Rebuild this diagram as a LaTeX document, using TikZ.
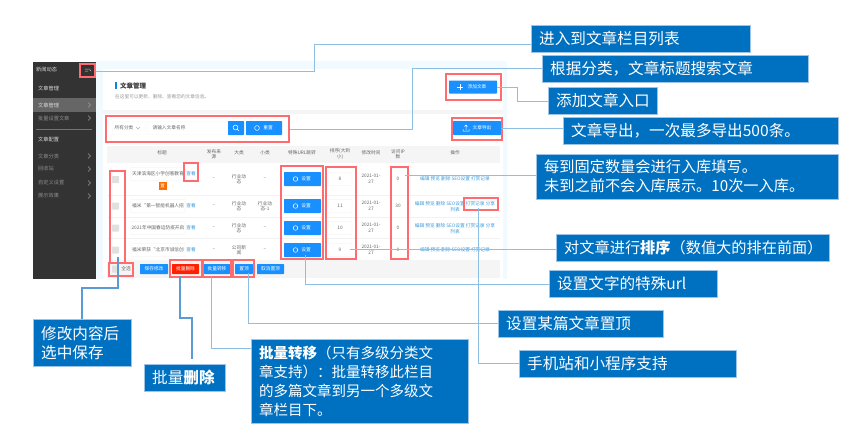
\documentclass[tikz,border=0pt]{standalone}
\usepackage{fontspec}
\setmainfont{Noto Sans CJK SC}
\usetikzlibrary{positioning}
\definecolor{callblue}{HTML}{0070C0}
\definecolor{calledge}{HTML}{9DC3E6}
\definecolor{markred}{HTML}{FF6B6F}
\definecolor{linkblue}{HTML}{3C9BDC}
\definecolor{btnblue}{HTML}{1890FF}
\definecolor{linedark}{HTML}{5B9BD5}
\tikzset{
    callout/.style={draw=calledge, fill=callblue, text=white, anchor=north west, align=left, inner xsep=8pt, inner ysep=0pt, font=\fontsize{15.6}{19}\selectfont},
    markbox/.style={draw=markred, line width=1.2pt, inner sep=0pt},
    lead/.style={draw=callblue!45!white, line width=0.9pt},
    leadthick/.style={draw=linedark, line width=1.5pt},
    uitext/.style={inner sep=0pt, text=black!60, font=\fontsize{4.7}{5.5}\selectfont, align=center},
    sidetext/.style={inner sep=0pt, text=white!85!black, anchor=west, font=\fontsize{5.2}{6}\selectfont},
    sidedim/.style={sidetext, text=white!55!black},
    linktext/.style={inner sep=0pt, text=linkblue, font=\fontsize{4.7}{5.5}\selectfont, align=center},
    uibtn/.style={fill=btnblue, rounded corners=0.6pt, inner sep=0pt, text=white, font=\fontsize{4.7}{5.5}\selectfont},
    cellbox/.style={draw=black!7, fill=white, rounded corners=0.6pt, inner sep=0pt, text=black!60, font=\fontsize{4.7}{5.5}\selectfont},
    checkbox/.style={fill=black!12, rounded corners=0.6pt, inner sep=0pt, minimum size=7pt},
}
\begin{document}
\begin{tikzpicture}[x=1pt, y=-1pt]
    \useasboundingbox (0,0) rectangle (860,432);

    % page behind the table
    \fill [blue!30!cyan!6] (96,61) rectangle (507,279);
    \fill [white] (103,69) rectangle (503,279);
    \fill [black!4] (103,110) rectangle (503,114);
    \fill [black!4] (107,146) rectangle (500,163);
    \fill [black!4] (107,260) rectangle (500,278);
    \draw [black!5] (107,195) -- (500,195) (107,217) -- (500,217) (107,238) -- (500,238);

    % side menu
    \fill [black!80] (33,62) rectangle (96,279);
    \fill [black!60] (33,98) rectangle (96,112);
    \draw [black!55] (36,129) -- (92,129);
    \node (menutop) [sidetext] at (36,70) {新闻动态};
    \node (menuone) [sidetext] at (38,88) {文章管理};
    \node (menuact) [sidetext] at (38,105) {文章管理};
    \node (menubat) [sidedim] at (38,118) {批量设置文章};
    \node (menucfg) [sidetext] at (38,139) {文章配置};
    \node (menusort) [sidedim] at (38,156) {文章分类};
    \node (menubin) [sidedim] at (38,169) {回收站};
    \node (menuown) [sidedim] at (38,183) {自定义设置};
    \node (menushow) [sidedim] at (38,196) {展示效果};
    \foreach \y in {105,118,156,169,183,196}
        \draw [white!60!black, line width=0.5pt] (88,\y-2.5) -- (90.5,\y) -- (88,\y+2.5);
    \draw [white!80!black, line width=0.5pt] (85,69) -- (90,69) (85,71) -- (88,71) (90,70) -- (91,71);

    % title card
    \fill [cyan!70!blue] (115,82) rectangle (117,89);
    \node (cardhead) [anchor=west, inner sep=0pt, text=black!80, font=\fontsize{6.5}{8}\selectfont\bfseries] at (120,85.5) {文章管理};
    \node (cardsub) [anchor=west, uitext, text=black!40] at (115,97) {在这里可以更新、删除、查看您的文章信息。};

    % search row
    \node (pickall) [cellbox, minimum width=33pt, minimum height=13pt, draw=black!4] at (129,128) {\hspace{-10pt}所有分类};
    \draw [black!30, line width=0.4pt] (136,127) -- (138,129) -- (140,127);
    \node (pickname) [cellbox, minimum width=80pt, minimum height=13pt, draw=black!4] at (188,128) {\hspace{-38pt}请输入文章名称};
    \node (findbtn) [uibtn, minimum width=16pt, minimum height=14pt] at (236,128) {};
    \draw [white, line width=0.5pt] (235.5,127.5) circle (2.4pt) (237.3,129.3) -- (239,131);
    \node (resetbtn) [uibtn, minimum width=36pt, minimum height=14pt] at (264,128) {\hspace{8pt}重置};
    \draw [white, line width=0.5pt] (257,128) circle (2.4pt);

    \node (addbtn) [uibtn, minimum width=48pt, minimum height=13pt] at (473,87) {\hspace{8pt}添加文章};
    \draw [white, line width=0.8pt] (457,87) -- (463,87) (460,84) -- (460,90);
    \node (outbtn) [uibtn, minimum width=48pt, minimum height=14pt] at (477,128) {\hspace{10pt}文章导出};
    \draw [white, line width=0.5pt] (463,129) -- (463,131) -- (469,131) -- (469,129) (466,130) -- (466,125) (464.5,126.5) -- (466,125) -- (467.5,126.5);

    % table head
    \node (headtitle) [uitext] at (162,153) {标题};
    \node (headfrom) [uitext] at (214,154) {发布来\\源};
    \node (headbig) [uitext] at (239,153) {大类};
    \node (headsmall) [uitext] at (265,153) {小类};
    \node (headurl) [uitext] at (302,153) {特殊URL跳转};
    \node (headrank) [uitext] at (340,154) {排序(大到\\小)};
    \node (headtime) [uitext] at (371,153) {修改时间};
    \node (headip) [uitext] at (398,154) {访问IP\\数};
    \node (headdo) [uitext] at (455,153) {操作};

    % table rows
    \node (tickone) [checkbox] at (115.5,179.5) {};
    \node (ticktwo) [checkbox] at (115.5,206) {};
    \node (tickthree) [checkbox] at (115.5,228) {};
    \node (tickfour) [checkbox] at (115.5,250) {};
    \node (tickall) [checkbox] at (115.5,269) {};
    \node (tickword) [uitext] at (126,269) {全选};

    \node (nameone) [cellbox, minimum width=54pt, minimum height=13pt] at (158,174) {天津滨海区小学创客教育};
    \node (nametwo) [cellbox, minimum width=54pt, minimum height=13pt] at (158,206) {福米“第一智能机器人招};
    \node (namethree) [cellbox, minimum width=54pt, minimum height=13pt] at (158,228) {2021年中国春运防疫开启};
    \node (namefour) [cellbox, minimum width=54pt, minimum height=13pt] at (158,250) {福米荣获“北京市诚信创};
    \node (viewone) [linktext] at (191,174) {查看};
    \node (viewtwo) [linktext] at (191,206) {查看};
    \node (viewthree) [linktext] at (191,228) {查看};
    \node (viewfour) [linktext] at (191,250) {查看};
    \node (topmark) [fill=orange!85!red, inner sep=0pt, minimum size=8pt, text=white, font=\fontsize{4.5}{5}\selectfont] at (162.5,186) {置};

    \node (fromone) [uitext] at (214,179) {--};
    \node (fromtwo) [uitext] at (214,206) {--};
    \node (fromthree) [uitext] at (214,228) {--};
    \node (fromfour) [uitext] at (214,250) {--};
    \node (bigone) [uitext] at (239,179) {行业动\\态};
    \node (bigtwo) [uitext] at (239,206) {行业动\\态};
    \node (bigthree) [uitext] at (239,228) {行业动\\态};
    \node (bigfour) [uitext] at (239,250) {公司新\\闻};
    \node (smallone) [uitext] at (265,179) {--};
    \node (smalltwo) [uitext] at (265,206) {行业动\\态-1};
    \node (smallthree) [uitext] at (265,228) {--};
    \node (smallfour) [uitext] at (265,250) {--};

    \node (urlone) [uibtn, minimum width=37pt, minimum height=14pt] at (302.5,179) {\hspace{7pt}设置};
    \node (urltwo) [uibtn, minimum width=37pt, minimum height=14pt] at (302.5,206) {\hspace{7pt}设置};
    \node (urlthree) [uibtn, minimum width=37pt, minimum height=14pt] at (302.5,228) {\hspace{7pt}设置};
    \node (urlfour) [uibtn, minimum width=37pt, minimum height=14pt] at (302.5,250) {\hspace{7pt}设置};
    \foreach \y in {179,206,228,250}
        \draw [white, line width=0.5pt] (295.5,\y) circle (2.3pt);

    \node (rankone) [cellbox, minimum width=24pt, minimum height=13pt] at (340,179) {8};
    \node (ranktwo) [cellbox, minimum width=24pt, minimum height=13pt] at (340,206) {11};
    \node (rankthree) [cellbox, minimum width=24pt, minimum height=13pt] at (340,228) {10};
    \node (rankfour) [cellbox, minimum width=24pt, minimum height=13pt] at (340,250) {9};
    \node (timeone) [uitext] at (371,179) {2021-01-\\27};
    \node (timetwo) [uitext] at (371,206) {2021-01-\\27};
    \node (timethree) [uitext] at (371,228) {2021-01-\\27};
    \node (timefour) [uitext] at (371,250) {2021-01-\\27};
    \node (ipone) [uitext] at (398,179) {0};
    \node (iptwo) [uitext] at (398,206) {30};
    \node (ipthree) [uitext] at (398,228) {0};
    \node (ipfour) [uitext] at (398,250) {0};
    \node (doone) [linktext] at (455,179) {编辑 预览 删除 SEO设置 打赏记录};
    \node (dotwo) [linktext] at (455,206.5) {编辑 预览 删除 SEO设置 打赏记录 分享\\列表};
    \node (dothree) [linktext] at (455,228.5) {编辑 预览 删除 SEO设置 打赏记录 分享\\列表};
    \node (dofour) [linktext] at (455,250) {编辑 预览 删除 SEO设置 打赏记录};

    % foot buttons
    \node (savebtn) [uibtn, minimum width=28pt, minimum height=10pt] at (154,269) {保存修改};
    \node (delbtn) [uibtn, fill=red!75!orange, minimum width=27pt, minimum height=10pt] at (185.5,269) {批量删除};
    \node (movebtn) [uibtn, minimum width=26pt, minimum height=10pt] at (217,269) {批量转移};
    \node (topbtn) [uibtn, minimum width=18pt, minimum height=10pt] at (244,269) {置顶};
    \node (untopbtn) [uibtn, minimum width=27pt, minimum height=10pt] at (270.5,269) {取消置顶};

    % red marks
    \node (markmenu) [markbox, minimum width=15pt, minimum height=13pt] at (87.5,70.5) {};
    \node (marksearch) [markbox, minimum width=183pt, minimum height=26pt] at (197.5,129) {};
    \node (markadd) [markbox, minimum width=55pt, minimum height=26pt] at (473.5,87) {};
    \node (markout) [markbox, minimum width=50pt, minimum height=22pt] at (477,129) {};
    \node (markview) [markbox, minimum width=14pt, minimum height=18pt] at (191,172) {};
    \node (marktick) [markbox, minimum width=15pt, minimum height=92pt] at (117.5,217) {};
    \node (markall) [markbox, minimum width=24pt, minimum height=13pt] at (121,269.5) {};
    \node (markdel) [markbox, minimum width=32pt, minimum height=17pt] at (186,268.5) {};
    \node (markmove) [markbox, minimum width=28pt, minimum height=17pt] at (217,268.5) {};
    \node (marktop) [markbox, minimum width=21pt, minimum height=17pt] at (243.5,268.5) {};
    \node (markurl) [markbox, minimum width=42pt, minimum height=93pt] at (302,212.5) {};
    \node (markrank) [markbox, minimum width=30pt, minimum height=92pt] at (341,213) {};
    \node (markip) [markbox, minimum width=17pt, minimum height=92pt] at (399.5,213) {};
    \node (markdo) [markbox, minimum width=34pt, minimum height=12pt] at (481,204) {};

    % blue notes
    \node (notecolumn) [callout, text width=203pt, minimum height=27pt] at (531,25) {进入到文章栏目列表};
    \node (notefind) [callout, text width=250pt, minimum height=27pt] at (542,55) {根据分类，文章标题搜索文章};
    \node (noteadd) [callout, text width=93pt, minimum height=27pt] at (548,87) {添加文章入口};
    \node (noteout) [callout, text width=259pt, minimum height=27pt] at (563,117) {文章导出，一次最多导出500条。};
    \node (notefill) [callout, text width=286pt, minimum height=45pt, font=\fontsize{15.2}{19}\selectfont] at (536,154) {每到固定数量会进行入库填写。\\未到之前不会入库展示。10次一入库。};
    \node (noterank) [callout, text width=257pt, minimum height=27pt, font=\fontsize{15.2}{19}\selectfont] at (556,234) {对文章进行\textbf{排序}（数值大的排在前面）};
    \node (noteurl) [callout, text width=152pt, minimum height=27pt] at (549,270) {设置文字的特殊url};
    \node (notetop) [callout, text width=149pt, minimum height=27pt] at (498,310) {设置某篇文章置顶};
    \node (notemob) [callout, text width=201pt, minimum height=27pt] at (519,350) {手机站和小程序支持};
    \node (notesave) [callout, text width=82pt, minimum height=47pt] at (33,319) {修改内容后\\选中保存};
    \node (notedel) [callout, text width=65pt, minimum height=27pt] at (144,364) {批量\textbf{删除}};
    \node (notemove) [callout, text width=201pt, minimum height=84pt, font=\fontsize{14.5}{19}\selectfont] at (251,339) {\textbf{批量转移}（只有多级分类文\\章支持）：批量转移此栏目\\的多篇文章到另一个多级文\\章栏目下。};

    % connectors
    \coordinate (bendmenu) at (314,71);
    \coordinate (bendcolumn) at (314,44);
    \coordinate (bendfind) at (412,68);
    \coordinate (bendadd) at (517,87);
    \coordinate (bendadddown) at (517,101);
    \coordinate (fromip) at (405,175);
    \coordinate (fromrank) at (350,249);
    \coordinate (fromurl) at (305,255);
    \coordinate (bendurl) at (305,284);
    \coordinate (fromtop) at (248,273);
    \coordinate (bendtop) at (248,323);
    \coordinate (fromdo) at (478,208);
    \coordinate (benddo) at (478,363);
    \coordinate (fromtick) at (118,257);
    \coordinate (bendtick) at (118,288);
    \coordinate (fromdel) at (180,276);
    \coordinate (benddel) at (180,318);
    \coordinate (todel) at (192,359);
    \coordinate (frommove) at (211,277);
    \coordinate (bendmove) at (211,348);

    \draw [lead] (markmenu.east |- bendmenu) -- (bendmenu) -- (bendcolumn) -- (notecolumn.west |- bendcolumn);
    \draw [lead] (marksearch.east) -| (bendfind) -- (notefind.west |- bendfind);
    \draw [lead] (addbtn.east) -- (bendadd) -- (bendadddown) -- (noteadd.west |- bendadddown);
    \draw [lead] (outbtn.east) -- (noteout.west |- outbtn.east);
    \draw [lead] (fromip) -- (notefill.west |- fromip);
    \draw [lead] (fromrank) -- (noterank.west |- fromrank);
    \draw [lead] (fromurl) -- (bendurl) -- (noteurl.west |- bendurl);
    \draw [lead] (fromtop) -- (bendtop) -- (notetop.west |- bendtop);
    \draw [lead] (fromdo) -- (benddo) -- (notemob.west |- benddo);
    \draw [leadthick] (fromtick) -- (bendtick) -| (notesave.north -| 82,0);
    \draw [leadthick] (fromdel) -- (benddel) -| (todel);
    \draw [lead] (frommove) -- (bendmove) -- (notemove.west |- bendmove);
\end{tikzpicture}
\end{document}
